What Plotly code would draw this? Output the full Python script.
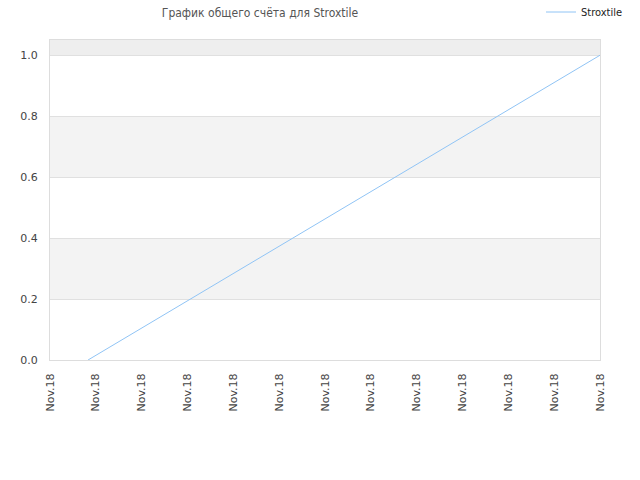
import plotly.graph_objects as go

tick_positions = list(range(13))
tick_labels = ["Nov.18"] * 13
x_values = [0.83, 12]
y_values = [0.0, 1.0]
series_name = "Stroxtile"
title_text = "График общего счёта для Stroxtile"

fig = go.Figure()
fig.add_trace(go.Scatter(
    x=x_values, y=y_values, mode="lines", name=series_name,
    line=dict(color="#90c4f5", width=1),
))

bands = [(0.2, 0.4, "#f3f3f3"), (0.6, 0.8, "#f3f3f3"), (1.0, 1.05, "#eeeeee")]
for y0, y1, c in bands:
    fig.add_shape(type="rect", xref="paper", yref="y", x0=0, x1=1, y0=y0, y1=y1,
                  fillcolor=c, line=dict(width=0), layer="below")

fig.update_layout(
    width=640, height=480,
    margin=dict(l=50, r=40, t=40, b=120, autoexpand=False),
    paper_bgcolor="white", plot_bgcolor="white",
    font=dict(family="DejaVu Sans", size=11, color="#444444"),
    title=dict(text=title_text, x=260/640, xanchor="center", xref="container",
               y=1-13/480, yanchor="middle", yref="container",
               font=dict(family="DejaVu Sans Condensed", size=12, color="#555555")),
    showlegend=True,
    legend=dict(xref="container", yref="container", x=541/640, xanchor="left",
                y=1-12/480, yanchor="middle",
                bgcolor="rgba(0,0,0,0)",
                font=dict(family="DejaVu Sans Condensed", size=11, color="#222222"),
                itemwidth=30),
    xaxis=dict(range=[0, 12], tickmode="array", tickvals=tick_positions, ticktext=tick_labels,
               tickangle=-90, showgrid=False, zeroline=False, showline=True, linecolor="#dddddd",
               mirror=True, ticks="", automargin=False, ticklabelstandoff=8,
               tickfont=dict(size=11, color="#444444")),
    yaxis=dict(range=[0, 1.05], tickvals=[0, 0.2, 0.4, 0.6, 0.8, 1.0],
               ticktext=["0.0", "0.2", "0.4", "0.6", "0.8", "1.0"],
               showgrid=True, gridcolor="#e0e0e0", zeroline=False, showline=True,
               linecolor="#dddddd", mirror=True, ticks="", automargin=False,
               ticklabelstandoff=9, tickfont=dict(size=11, color="#444444")),
)

fig.write_html("out.html", config={"displayModeBar": False},
               post_script="document.body.style.margin='0px';")
